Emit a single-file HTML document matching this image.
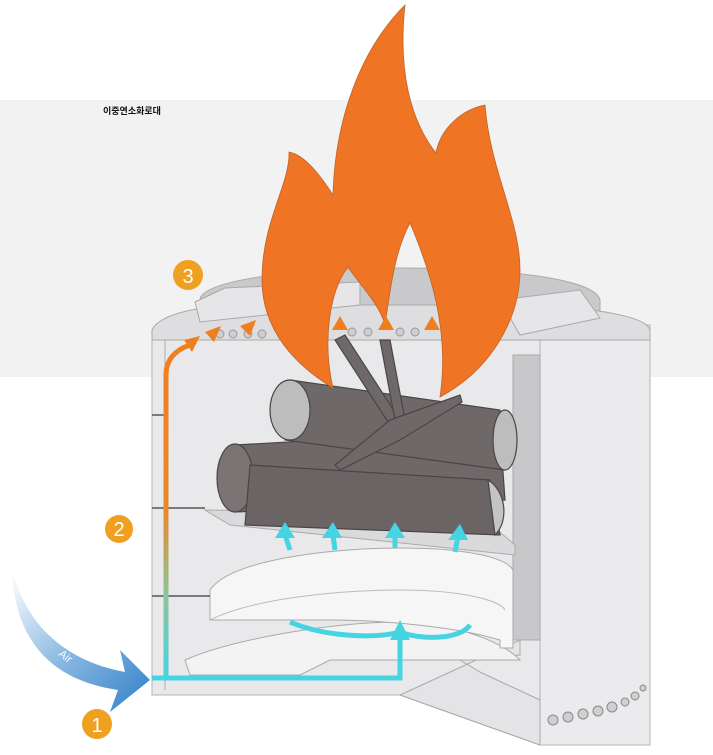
<!DOCTYPE html>
<html><head><meta charset="utf-8"><style>
html,body{margin:0;padding:0;background:#fff;}
.w{position:relative;width:713px;height:755px;overflow:hidden;font-family:"Liberation Sans","Noto Sans CJK KR",sans-serif;}
.t{position:absolute;left:103px;top:104px;font-size:9px;font-weight:bold;color:#111;}
</style></head><body><div class="w">
<svg width="713" height="755" viewBox="0 0 713 755" style="position:absolute;left:0;top:0">
<defs>
<linearGradient id="tube" x1="0" y1="0" x2="0" y2="1">
<stop offset="0" stop-color="#f07f1f"/><stop offset="0.5" stop-color="#e8892a"/><stop offset="0.75" stop-color="#8fc49a"/><stop offset="1" stop-color="#45d4e2"/></linearGradient>
<linearGradient id="air" x1="0" y1="0" x2="1" y2="1">
<stop offset="0" stop-color="#ffffff"/><stop offset="0.5" stop-color="#8ab8e2"/><stop offset="1" stop-color="#2f7fc8"/></linearGradient>
</defs>
<rect x="0" y="100" width="713" height="277" fill="#f2f2f2"/>
<path d="M200,300 C200,280 300,268 400,268 C500,268 595,278 600,300 L600,320 L200,320Z" fill="#c9c9cc" stroke="#aaa"/>
<rect x="540" y="325" width="110" height="420" fill="#ebebed" stroke="#b5b5b8"/>
<path d="M152,330 L540,330 L540,745 L400,695 L152,695Z" fill="#e9e9eb" stroke="#b5b5b8"/>
<line x1="165" y1="340" x2="165" y2="690" stroke="#aaa"/>
<path d="M152,330 C160,312 210,305 240,305 L510,305 C560,305 645,312 650,330 L650,340 L152,340Z" fill="#dedee1" stroke="#aaa"/>
<path d="M195,302 L225,288 L360,282 L360,305 L200,322Z" fill="#e6e6e8" stroke="#aaa"/>
<path d="M500,300 L580,290 L600,318 L520,335Z" fill="#e6e6e8" stroke="#aaa"/>
<g fill="#cfcfd2" stroke="#999">
<circle cx="220" cy="334" r="4"/><circle cx="233" cy="334" r="4"/><circle cx="248" cy="334" r="4"/><circle cx="262" cy="334" r="4"/>
<circle cx="322" cy="332" r="4"/><circle cx="352" cy="332" r="4"/><circle cx="368" cy="332" r="4"/><circle cx="400" cy="332" r="4"/><circle cx="415" cy="332" r="4"/><circle cx="445" cy="332" r="4"/><circle cx="460" cy="332" r="4"/></g>
<rect x="513" y="355" width="27" height="285" fill="#c8c8ca" stroke="#aaa"/>
<path d="M400,695 L540,745 L540,700 L480,672 L460,660 L520,655 L520,640Z" fill="#e4e4e6" stroke="#aaa"/>
<g fill="#d0d0d3" stroke="#888"><circle cx="553" cy="720" r="5"/><circle cx="568" cy="717" r="5"/><circle cx="583" cy="714" r="5"/><circle cx="598" cy="711" r="5"/><circle cx="612" cy="707" r="5"/><circle cx="625" cy="702" r="4"/><circle cx="635" cy="696" r="4"/><circle cx="643" cy="688" r="3"/></g>
<path d="M185,660 C230,640 330,622 400,622 C450,622 500,640 520,660 L330,660 L300,675 L190,675Z" fill="#f3f3f4" stroke="#aaa"/>
<path d="M210,620 L210,590 C230,560 330,548 400,548 C460,548 505,556 513,570 L513,648 L500,648 L500,640 C460,628 390,620 330,620Z" fill="#f6f6f7" stroke="#aaa"/>
<path d="M210,620 C250,600 330,590 400,590 C460,590 500,600 505,610" fill="none" stroke="#bbb"/>
<path d="M205,510 L480,515 L515,545 L515,555 L230,525Z" fill="#dadadc" stroke="#aaa"/>
<line x1="152" y1="508" x2="205" y2="508" stroke="#555" stroke-width="1.5"/>
<line x1="152" y1="415" x2="165" y2="415" stroke="#555" stroke-width="1.5"/>
<line x1="152" y1="596" x2="210" y2="596" stroke="#555" stroke-width="1.5"/>
<g fill="#6e6869" stroke="#4a4546" stroke-width="1.2">
<path d="M235,445 L500,430 L505,500 L235,512Z"/>
<ellipse cx="235" cy="478" rx="18" ry="34" fill="#7a7475"/>
<path d="M290,380 L500,410 L505,470 L285,440Z"/>
<ellipse cx="290" cy="410" rx="20" ry="30" fill="#bdbdbd"/>
<ellipse cx="505" cy="440" rx="12" ry="30" fill="#bdbdbd"/>
<path d="M250,465 L490,480 L500,535 L245,525Z" fill="#6a6465"/>
<path d="M488,480 C505,490 510,520 495,535Z" fill="#c4c4c4"/>
<path d="M335,340 L345,335 L400,420 L390,425Z"/>
<path d="M380,340 L390,340 L405,420 L395,420Z"/>
<path d="M390,420 L460,395 L462,402 L400,440 L340,470 L335,465Z"/>
</g>
<path d="M405,5 C360,50 335,120 333,195 C320,175 305,155 289,152 C290,185 262,220 262,280 C262,330 295,365 333,388 C322,340 330,290 348,267 C360,285 380,305 385,325 C390,290 395,250 410,223 C430,270 450,330 440,397 C490,370 520,320 520,270 C520,220 490,170 485,105 C460,110 440,130 436,153 C410,120 398,70 405,5Z" fill="#ef7424" stroke="#c0652a" stroke-width="0.8"/>
<path d="M166,678 L166,375 C166,360 175,350 190,345" fill="none" stroke="url(#tube)" stroke-width="5"/>
<g fill="#ef7f1e"><path d="M184,340 L200,336 L192,352Z"/><path d="M205,332 L221,326 L214,342Z"/><path d="M240,326 L256,320 L250,336Z"/>
<path d="M332,330 L340,316 L348,330Z"/><path d="M378,330 L386,316 L394,330Z"/><path d="M424,330 L432,316 L440,330Z"/></g>
<g stroke="#45d4e2" stroke-width="5" fill="none">
<path d="M152,678 L400,678 L400,632"/>
<path d="M400,632 C370,640 320,635 290,622"/><path d="M400,632 C420,640 460,640 470,625"/>
<path d="M290,550 L285,535"/><path d="M335,550 L333,535"/><path d="M395,548 L395,535"/><path d="M455,552 L458,537"/>
</g>
<g fill="#45d4e2"><path d="M390,640 L400,620 L410,640Z"/><path d="M275,538 L285,522 L295,538Z"/><path d="M322,538 L333,522 L342,538Z"/><path d="M385,538 L395,522 L405,538Z"/><path d="M448,540 L460,524 L468,540Z"/></g>
<path d="M12,570 C25,620 60,660 125,672 L120,650 L150,680 L110,712 L118,690 C50,680 15,640 12,570Z" fill="url(#air)"/>
<text x="58" y="655" font-size="11" fill="#fff" transform="rotate(38 58 655)" font-family="Liberation Sans, sans-serif">Air</text>
<g fill="#f0a020"><circle cx="188" cy="275" r="15"/><circle cx="119" cy="529" r="14"/><circle cx="97" cy="724" r="15"/></g>
<g fill="#fff" font-size="20" font-family="Liberation Sans, sans-serif" text-anchor="middle"><text x="188" y="283">3</text><text x="119" y="536">2</text><text x="97" y="732">1</text></g>
</svg>
<div class="t">이중연소화로대</div>
</div></body></html>
